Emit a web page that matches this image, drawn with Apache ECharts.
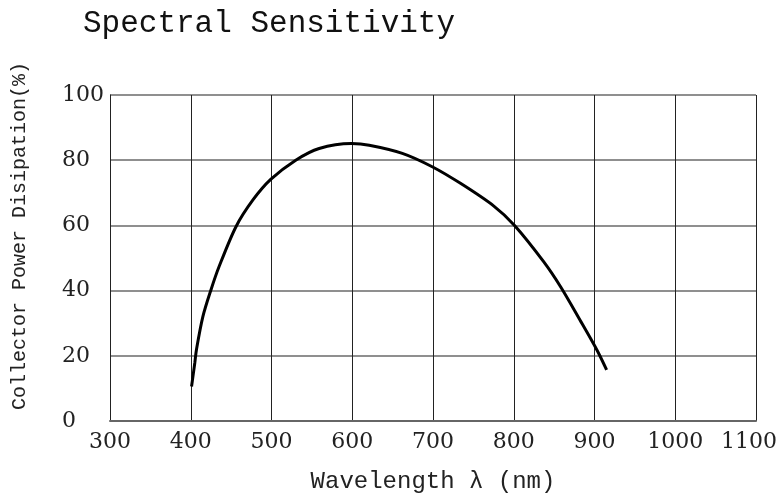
<!DOCTYPE html>
<html>
<head>
<meta charset="utf-8">
<script src="https://cdn.jsdelivr.net/npm/echarts@6/dist/echarts.min.js"></script>
<style>
html,body{margin:0;padding:0;background:#fff;}
#chart{width:779px;height:494px;}
</style>
</head>
<body>
<div id="chart"></div>
<script>
const wavelengths = [401, 405, 407, 415, 425, 435, 456, 477, 499, 530, 559, 599, 621, 662, 699, 734, 775, 801, 837, 858, 882, 903, 915];
const sensitivity = [10.6, 17.8, 21.8, 32, 40.2, 47.3, 59.6, 67.8, 74.1, 80, 83.6, 85.1, 84.6, 82.1, 78, 72.9, 66, 60, 48.9, 41.2, 31, 21.8, 15.7];
const xTicks = [300, 400, 500, 600, 700, 800, 900, 1000, 1100];
const yTicks = [0, 20, 40, 60, 80, 100];
const titleText = 'Spectral Sensitivity';
const xName = 'Wavelength λ (nm)';
const yName = 'Collector Power Disipation(%)';

const chart = echarts.init(document.getElementById('chart'), null, {renderer: 'canvas'});
const points = wavelengths.map((w, i) => [w, sensitivity[i]]);
const xMax = xTicks[xTicks.length - 1];
chart.setOption({
  animation: false,
  backgroundColor: '#fff',
  title: {
    text: titleText,
    left: 78, top: 3,
    textStyle: {fontFamily: 'Liberation Mono', fontSize: 31, fontWeight: 'normal', color: '#111'}
  },
  grid: {left: 110, right: 23, top: 95, bottom: 73, containLabel: false, outerBoundsMode: 'none'},
  xAxis: {
    type: 'value', min: xTicks[0], max: xMax, interval: 100,
    name: xName, nameLocation: 'middle', nameGap: 49,
    nameTextStyle: {fontFamily: 'Liberation Mono', fontSize: 24, color: '#222'},
    axisLine: {show: true, lineStyle: {color: '#666', width: 2}},
    axisTick: {show: false},
    axisLabel: {
      margin: 10, fontFamily: 'DejaVu Serif', fontSize: 22, color: '#222',
      formatter: v => v === xMax ? '{m|' + v + '}' : String(v),
      rich: {m: {fontFamily: 'DejaVu Serif', fontSize: 22, color: '#222', padding: [0, 14, 0, 0]}}
    },
    splitLine: {show: true, lineStyle: {color: '#222', width: 1}}
  },
  yAxis: {
    type: 'value', min: yTicks[0], max: yTicks[yTicks.length - 1], interval: 20,
    name: yName, nameLocation: 'middle', nameGap: 80, nameRotate: 90,
    nameTextStyle: {fontFamily: 'Liberation Mono', fontSize: 20, color: '#222', padding: [0, 0, 0, 44]},
    axisLine: {show: true, lineStyle: {color: '#222', width: 1}},
    axisTick: {show: false},
    axisLabel: {margin: 48, align: 'left', fontFamily: 'DejaVu Serif', fontSize: 22, color: '#222', formatter: v => String(v)},
    splitLine: {show: true, lineStyle: {color: '#6a6a6a', width: 1.5}}
  },
  series: [{
    type: 'line',
    data: points,
    smooth: 0.3,
    symbol: 'none',
    lineStyle: {color: '#000', width: 3}
  }]
});
</script>
</body>
</html>
